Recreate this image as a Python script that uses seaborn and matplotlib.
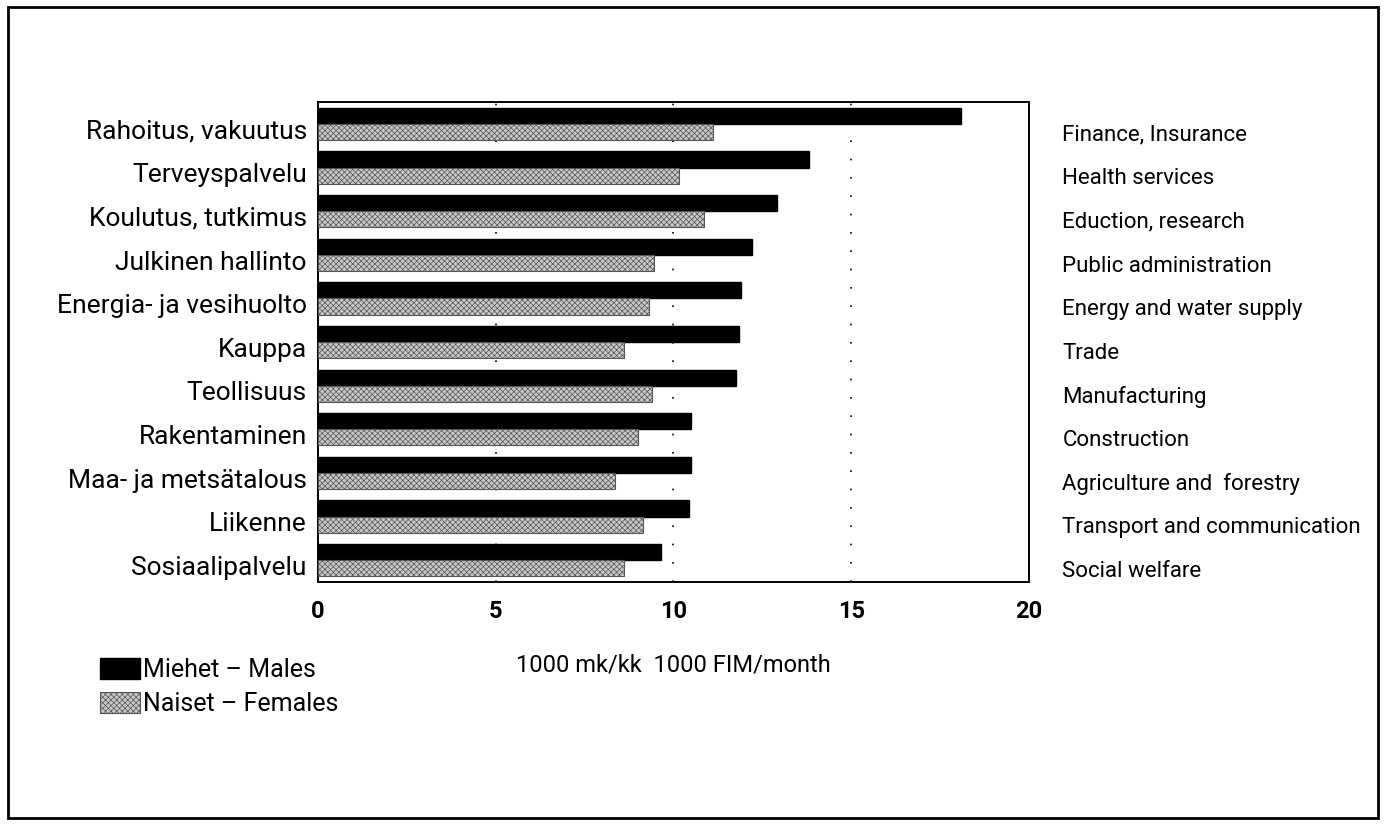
import matplotlib
matplotlib.use("Agg")
import matplotlib.pyplot as plt
from matplotlib.patches import Rectangle
import seaborn as sns
import pandas as pd
import numpy as np

# Data
industries_fi = [
    "Rahoitus, vakuutus", "Terveyspalvelu", "Koulutus, tutkimus",
    "Julkinen hallinto", "Energia- ja vesihuolto", "Kauppa", "Teollisuus",
    "Rakentaminen", "Maa- ja metsätalous", "Liikenne", "Sosiaalipalvelu",
]
industries_en = [
    "Finance, Insurance", "Health services", "Eduction, research",
    "Public administration", "Energy and water supply", "Trade",
    "Manufacturing", "Construction", "Agriculture and  forestry",
    "Transport and communication", "Social welfare",
]
males = [18.1, 13.8, 12.9, 12.2, 11.9, 11.85, 11.75, 10.5, 10.5, 10.45, 9.65]
females = [11.1, 10.15, 10.85, 9.45, 9.3, 8.6, 9.4, 9.0, 8.35, 9.15, 8.6]
sex_labels = ["Miehet \u2013 Males", "Naiset \u2013 Females"]

df = pd.DataFrame({
    "industry": industries_fi * 2,
    "value": males + females,
    "sex": [sex_labels[0]] * len(males) + [sex_labels[1]] * len(females),
})

sns.set_style("white")
plt.rcParams["font.family"] = ["Roboto", "DejaVu Sans"]
plt.rcParams["text.color"] = "black"
plt.rcParams["axes.labelcolor"] = "black"
plt.rcParams["xtick.color"] = "black"
plt.rcParams["ytick.color"] = "black"
plt.rcParams["hatch.linewidth"] = 0.5

fig = plt.figure(figsize=(13.86, 8.25), dpi=100)
ax = fig.add_axes([0.2294, 0.2945, 0.513, 0.5818])

sns.barplot(
    data=df, y="industry", x="value", hue="sex", orient="h",
    palette=["black", "#c8c8c8"], width=0.74, ax=ax, legend=False,
    saturation=1, zorder=3,
)

# stippled look for the female bars
n = len(industries_fi)
for i, p in enumerate(ax.patches[:2 * n]):
    if i >= n:
        p.set_hatch("xxxxxx")
        p.set_edgecolor("#555555")
        p.set_linewidth(0.8)
    else:
        p.set_edgecolor("black")

ax.set_xlim(0, 20)
ax.set_ylim(n - 0.5, -0.5)
ax.set_xticks([0, 5, 10, 15, 20])
ax.set_xticklabels(["0", "5", "10", "15", "20"], fontsize=17, fontweight="bold")
for x in [5, 10, 15]:
    ax.axvline(x, color="black", linestyle=(0, (1, 10)), linewidth=1.2, zorder=1)
ax.tick_params(axis="x", length=0, pad=13)
ax.set_ylabel("")
ax.set_xlabel("1000 mk/kk  1000 FIM/month", fontsize=17, labelpad=22)
ax.set_yticks(np.arange(n) + 0.12)
ax.set_yticklabels(industries_fi, fontsize=19)
ax.tick_params(axis="y", length=0, pad=8)
for s in ax.spines.values():
    s.set_visible(True)
    s.set_color("black")
    s.set_linewidth(1.4)

# English labels on the right
ax2 = ax.twinx()
ax2.set_ylim(n - 0.5, -0.5)
ax2.set_yticks(np.arange(n) + 0.2)
ax2.set_yticklabels(industries_en, fontsize=16)
ax2.tick_params(axis="y", length=0, pad=24)
for s in ax2.spines.values():
    s.set_visible(False)

# legend
handles = [
    Rectangle((0, 0), 1, 1, facecolor="black", edgecolor="black"),
    Rectangle((0, 0), 1, 1, facecolor="#c8c8c8", edgecolor="#555555",
              hatch="xxxxxx", linewidth=0.8),
]
fig.legend(
    handles, sex_labels, loc="upper left", bbox_to_anchor=(0.056, 0.23),
    frameon=False, fontsize=18, handlelength=1.6, handleheight=0.9,
    handletextpad=0.1, labelspacing=0.4,
)

# frame around the whole figure
fig.patches.append(Rectangle((0.006, 0.009), 0.988, 0.982, transform=fig.transFigure,
                             fill=False, edgecolor="black", linewidth=2))

fig.savefig("out.png", dpi=100)
